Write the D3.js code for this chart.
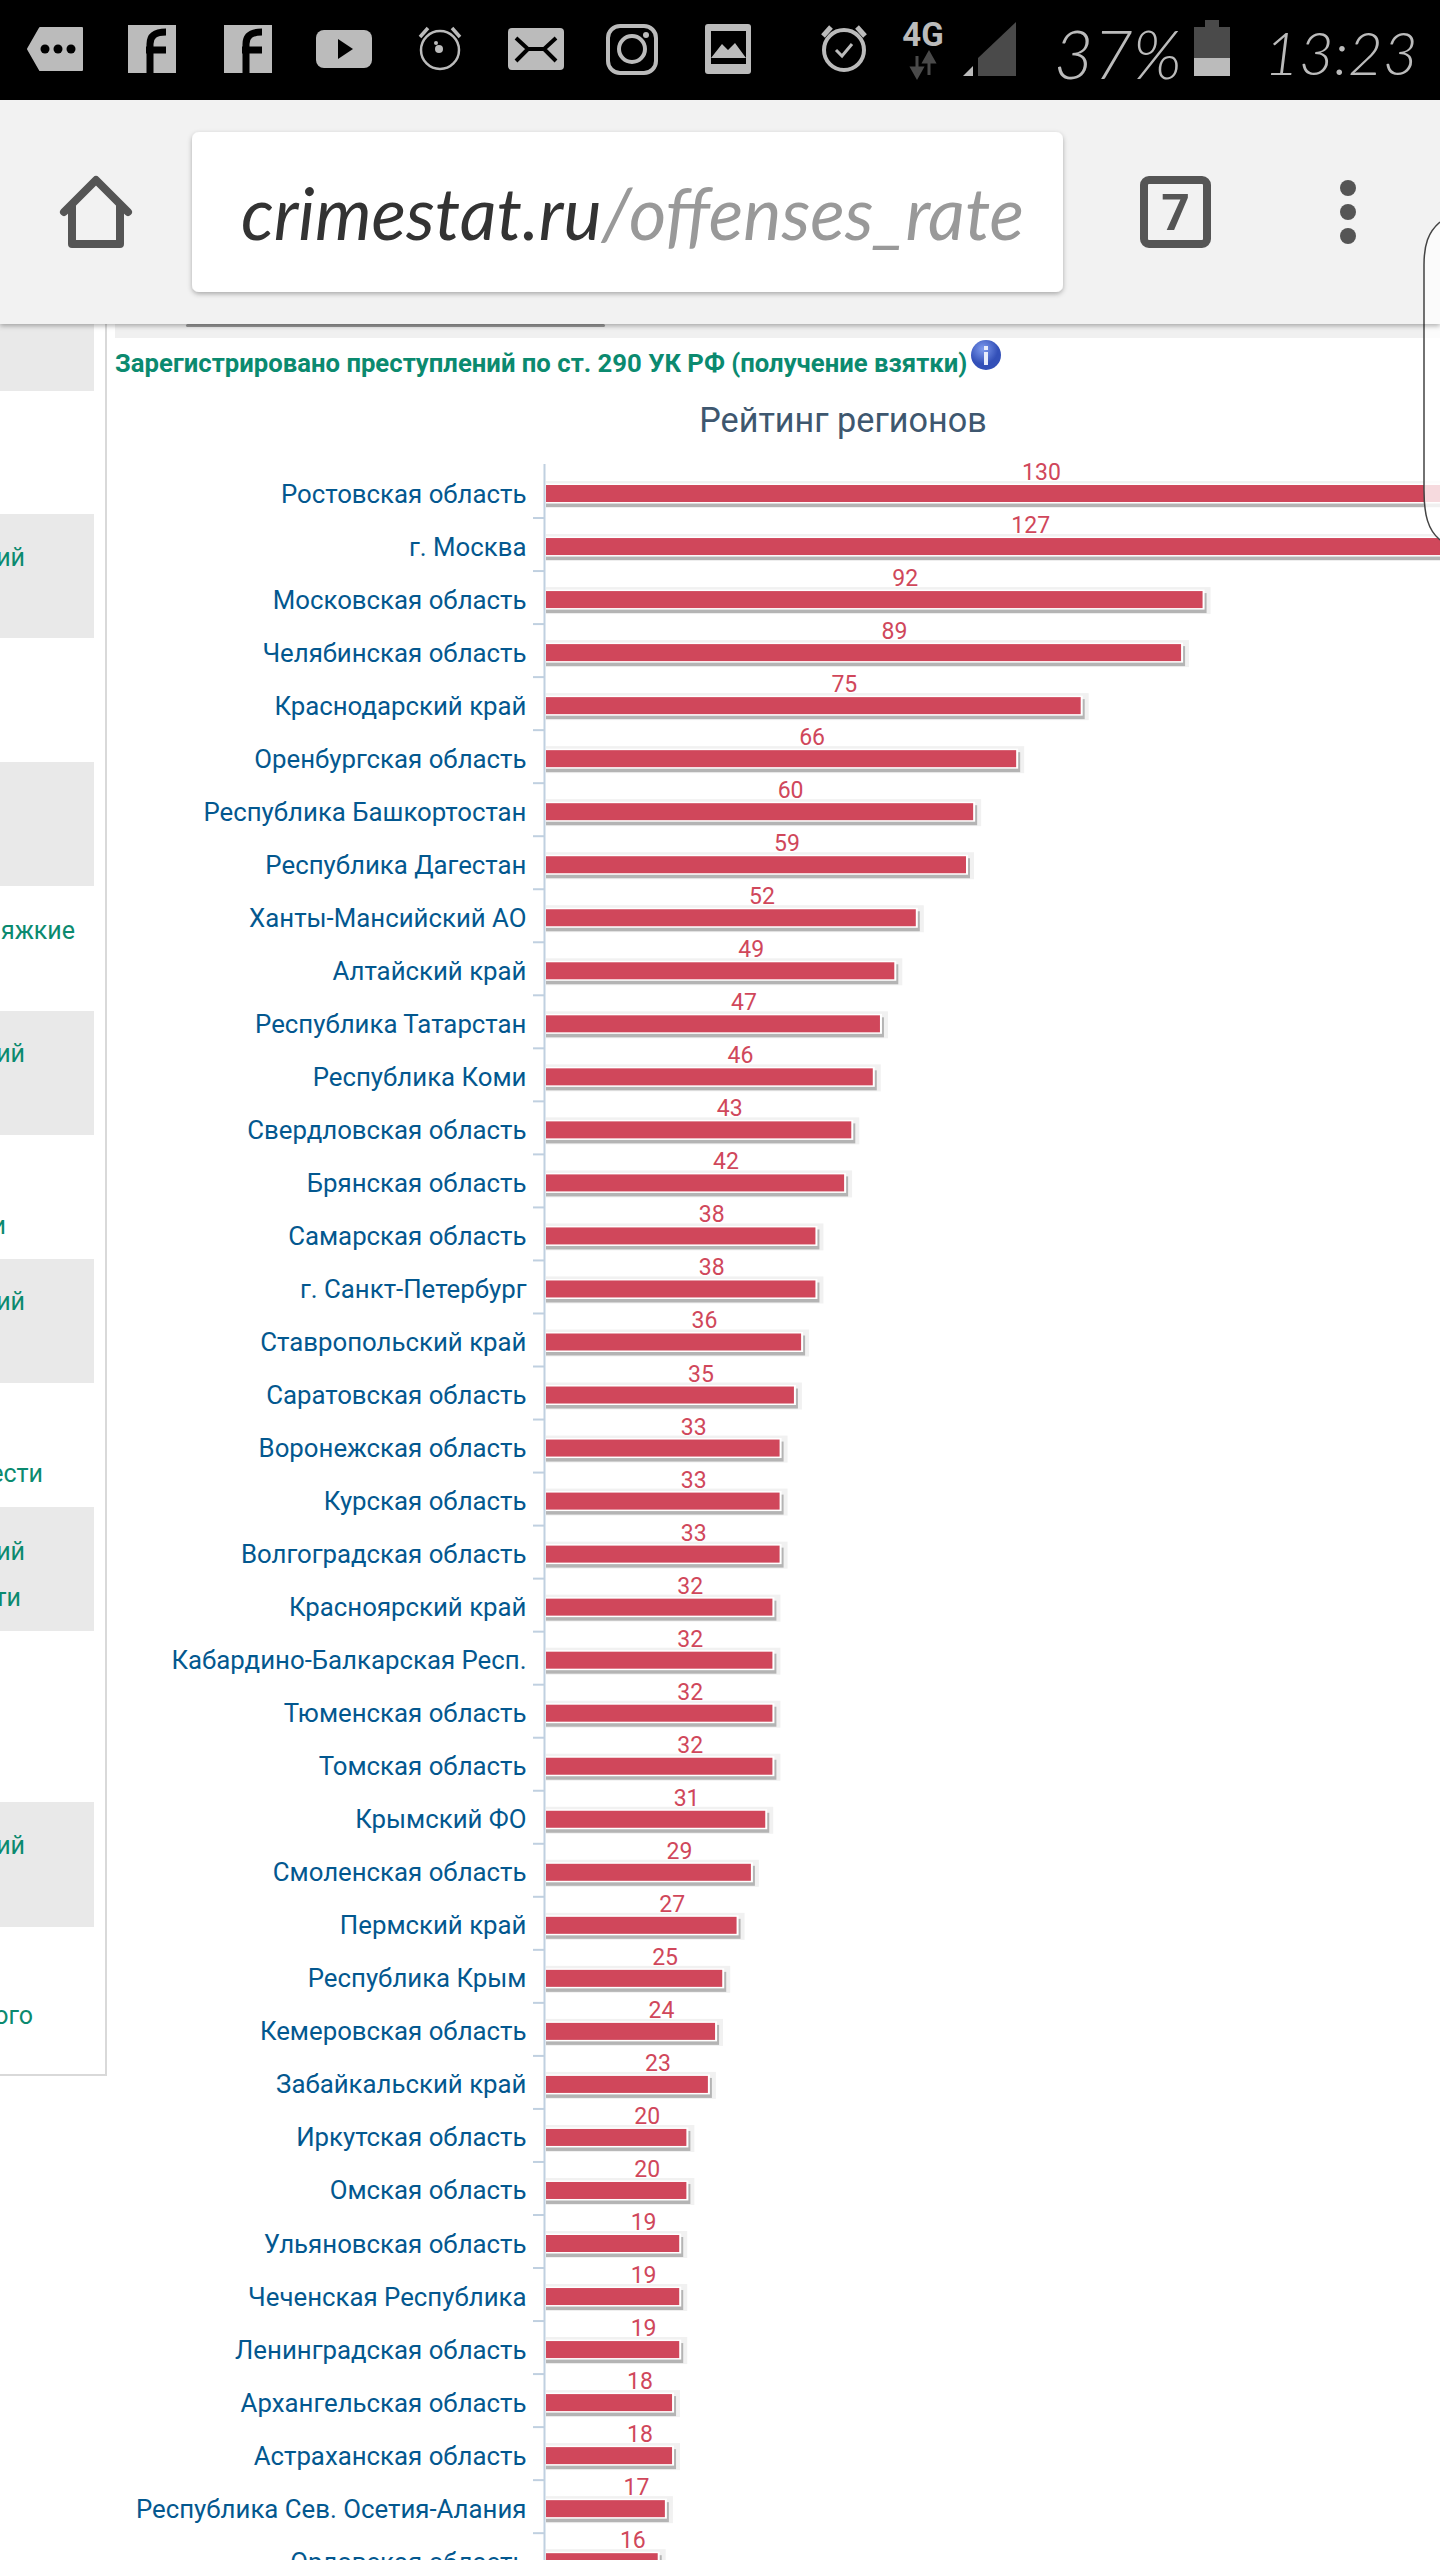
<!DOCTYPE html>
<html><head><meta charset="utf-8">
<script src="https://cdn.jsdelivr.net/npm/d3@7/dist/d3.min.js"></script>
<style>html,body{margin:0;padding:0;background:#fff;overflow:hidden}svg{display:block}</style>
</head><body><svg id="c" width="1440" height="2560"></svg>
<script>
const categories = ["Ростовская область","г. Москва","Московская область","Челябинская область","Краснодарский край","Оренбургская область","Республика Башкортостан","Республика Дагестан","Ханты-Мансийский АО","Алтайский край","Республика Татарстан","Республика Коми","Свердловская область","Брянская область","Самарская область","г. Санкт-Петербург","Ставропольский край","Саратовская область","Воронежская область","Курская область","Волгоградская область","Красноярский край","Кабардино-Балкарская Респ.","Тюменская область","Томская область","Крымский ФО","Смоленская область","Пермский край","Республика Крым","Кемеровская область","Забайкальский край","Иркутская область","Омская область","Ульяновская область","Чеченская Республика","Ленинградская область","Архангельская область","Астраханская область","Республика Сев. Осетия-Алания","Орловская область"];
const values = [130,127,92,89,75,66,60,59,52,49,47,46,43,42,38,38,36,35,33,33,33,32,32,32,32,31,29,27,25,24,23,20,20,19,19,19,18,18,17,16];
const chartTitle = "Рейтинг регионов";
const pageHeading = "Зарегистрировано преступлений по ст. 290 УК РФ (получение взятки)";
const urlHost = "crimestat.ru", urlPath = "/offenses_rate";
const sidebarTexts = ["ий","яжкие","ий","и","ий","ести","ий","ти","ий","ого"];
const sidebarTextY = [557,930,1053,1225,1301,1473,1551,1597,1845,2015];
const sidebarTextEnd = [25,75,25,6,25,43,25,21,25,33];
const sidebarBlocks = [[0,391],[514,638],[762,886],[1011,1135],[1259,1383],[1507,1631],[1802,1927]];

const svg = d3.select("#c");
const F = "Roboto, sans-serif";
const RED="#d0475b", BLUE="#03588f", GREEN="#0b8a6f";
const rect=(g,x,y,w,h,fill,extra={})=>{const r=g.append("rect").attr("x",x).attr("y",y).attr("width",w).attr("height",h).attr("fill",fill);for(const k in extra)r.attr(k,extra[k]);return r;};
const text=(g,s,x,y,size,fill,anchor="start",extra={})=>{const t=g.append("text").text(s).attr("x",x).attr("y",y).attr("font-size",size).attr("font-family",F).attr("fill",fill).attr("text-anchor",anchor).attr("dominant-baseline","central");for(const k in extra)t.attr(k,extra[k]);return t;};

// ---- page behind the chart
const page = svg.append("g");
sidebarBlocks.forEach(b=>rect(page,0,b[0],94,b[1]-b[0],"#e9e9e9"));
rect(page,105,300,2,1775,"#d9d9d9");
rect(page,0,2074,107,2,"#d9d9d9");
sidebarTexts.forEach((s,i)=>text(page,s,sidebarTextEnd[i],sidebarTextY[i],25,GREEN,"end"));
rect(page,115,324,1325,14,"#f0f0f0");
rect(page,186,324,419,3,"#999",{rx:1.5});
text(page,pageHeading,115,363,25.7,GREEN,"start",{"font-weight":700,id:"head"});
// info icon
const gr=svg.append("defs").append("radialGradient").attr("id","inf").attr("cx","40%").attr("cy","30%");
gr.append("stop").attr("offset","0%").attr("stop-color","#7f9bee");
gr.append("stop").attr("offset","100%").attr("stop-color","#3350b8");
page.append("circle").attr("cx",986).attr("cy",355).attr("r",15).attr("fill","url(#inf)");
rect(page,984,352,4,13,"#e8ecfb"); rect(page,984,346,4,4,"#e8ecfb");

// ---- chart
const x = d3.scaleLinear().domain([0,130]).range([543,1475]);
const y = d3.scaleBand().domain(categories).range([465,465+53.03*categories.length]);
const barH = 17, off = 2;
text(svg,chartTitle,843,420,34.2,"#3e576f","middle",{id:"title"});

const yAxisG = svg.append("g").attr("transform","translate(544.5,0)")
  .call(d3.axisLeft(y).tickSize(0).tickPadding(18).tickFormat(d=>d));
yAxisG.select(".domain").remove();
yAxisG.selectAll("text").attr("font-family",F).attr("font-size",25.8).attr("fill",BLUE)
  .attr("dy",null).attr("dominant-baseline","central").attr("y",2);
svg.append("line").attr("x1",544.5).attr("x2",544.5).attr("y1",464).attr("y2",2560).attr("stroke","#c0d0e0").attr("stroke-width",2);
svg.append("g").selectAll("line").data(categories.slice(1)).join("line")
  .attr("x1",533).attr("x2",544).attr("y1",d=>y(d)).attr("y2",d=>y(d)).attr("stroke","#c0d0e0").attr("stroke-width",2);

const rows = categories.map((c,i)=>({c,v:values[i]}));
const cy = d=>y(d.c)+y.bandwidth()/2+off;
const bars = svg.append("g");
const w = d=>x(d.v)-546;
bars.selectAll(".o").data(rows).join("rect").attr("x",546).attr("y",d=>cy(d)-barH/2-4)
  .attr("width",d=>w(d)+8).attr("height",barH+10).attr("fill","#f1f1f1");
bars.selectAll(".o2").data(rows).join("rect").attr("x",546).attr("y",d=>cy(d)-barH/2+2)
  .attr("width",d=>w(d)+4).attr("height",barH+3).attr("fill","#b4b4b4");
bars.selectAll(".o3").data(rows).join("rect").attr("x",546).attr("y",d=>cy(d)-barH/2-1.5)
  .attr("width",d=>w(d)+2).attr("height",barH+3).attr("fill","#fff");
bars.selectAll(".b").data(rows).join("rect").attr("x",546).attr("y",d=>cy(d)-barH/2)
  .attr("width",w).attr("height",barH).attr("fill",RED);
svg.append("g").selectAll("text").data(rows).join("text")
  .text(d=>d.v).attr("x",d=>(x(d.v)+x(0))/2+32.5).attr("y",d=>cy(d)-21)
  .attr("text-anchor","middle").attr("dominant-baseline","central")
  .attr("font-family",F).attr("font-size",23).attr("fill",RED);

// ---- overlay outline at right
svg.append("path").attr("d","M1440 222 C1428 232 1424 245 1424 265 L1424 490 C1424 515 1428 530 1440 540 Z")
  .attr("fill","#fff").attr("fill-opacity",.8);
svg.append("path").attr("d","M1440 222 C1428 232 1424 245 1424 265 L1424 490 C1424 515 1428 530 1440 540")
  .attr("fill","none").attr("stroke","#444").attr("stroke-width",1.5);

// ---- browser toolbar
const defs=svg.select("defs");
const fl=defs.append("filter").attr("id","sh").attr("x","-5%").attr("y","-20%").attr("width","110%").attr("height","150%");
fl.append("feDropShadow").attr("dx",0).attr("dy",2).attr("stdDeviation",2.5).attr("flood-color","#000").attr("flood-opacity",.3);
const tb=svg.append("g");
rect(tb,0,100,1440,224,"#f2f2f2",{filter:"url(#sh)"});
// keep overlay line visible through toolbar bottom
tb.append("path").attr("d","M1440 222 C1428 232 1424 245 1424 265 L1424 324 L1440 324 Z").attr("fill","#fbfbfb");
tb.append("path").attr("d","M1440 222 C1428 232 1424 245 1424 265 L1424 324").attr("fill","none").attr("stroke","#444").attr("stroke-width",1.5);
rect(tb,192,132,871,160,"#fff",{rx:7,filter:"url(#sh)"});
const cl=defs.append("clipPath").attr("id","url"); cl.append("rect").attr("x",235).attr("y",132).attr("width",797).attr("height",160);
const urlT=text(tb,"",241,212,72,"#333","start",{"clip-path":"url(#url)","font-family":"'Lato', sans-serif","font-style":"italic"});
urlT.append("tspan").text(urlHost).attr("fill","#333");
urlT.append("tspan").text(urlPath).attr("fill","#999");
const st={fill:"none",stroke:"#555","stroke-width":8,"stroke-linejoin":"round","stroke-linecap":"round"};
const path=(g,d,o)=>{const p=g.append("path").attr("d",d);for(const k in o)p.attr(k,o[k]);return p;};
path(tb,"M64 212 L96 180 L128 212 M72 205 L72 244 L120 244 L120 205",st);
rect(tb,1144,180,63,64,"none",{stroke:"#555","stroke-width":8,rx:5});
text(tb,"7",1175.5,213,50,"#555","middle",{"font-weight":700});
[188,212,236].forEach(v=>tb.append("ellipse").attr("cx",1348).attr("cy",v).attr("rx",8).attr("ry",8).attr("fill","#555"));

// ---- status bar
const sb=svg.append("g");
const G="#bbb", D="#4a4a4a";
rect(sb,0,0,1440,100,"#000");
path(sb,"M28 49 L40 28 L82 28 L82 70 L40 70 Z",{fill:G,"stroke":G,"stroke-width":2,"stroke-linejoin":"round"});
[45,58,71].forEach(v=>sb.append("circle").attr("cx",v).attr("cy",49).attr("r",4.5).attr("fill","#000"));
[128,224].forEach(v=>{rect(sb,v,25,48,48,G);
  path(sb,`M${v+22} 73 L${v+22} 44 C${v+22} 36 ${v+27} 32 ${v+38} 32 M${v+18} 50 L${v+38} 50`,{fill:"none",stroke:"#000","stroke-width":7});});
rect(sb,316,30,56,38,G,{rx:8});
path(sb,"M338 39 L353 49 L338 59 Z",{fill:"#000"});
const alarm=(cx,cy,r,sw)=>{sb.append("circle").attr("cx",cx).attr("cy",cy).attr("r",r).attr("fill","none").attr("stroke",G).attr("stroke-width",sw);
  path(sb,`M${cx-r-1} ${cy-r+6} L${cx-r+7} ${cy-r-3} M${cx+r+1} ${cy-r+6} L${cx+r-7} ${cy-r-3}`,{fill:"none",stroke:G,"stroke-width":sw+1});};
alarm(440,50,19,2.5);
sb.append("circle").attr("cx",439).attr("cy",49).attr("r",4).attr("fill",G);
sb.append("circle").attr("cx",436).attr("cy",43).attr("r",2).attr("fill",G);
rect(sb,508,28,56,42,G,{rx:4});
path(sb,"M516 38 L528 49 L516 61 M556 38 L544 49 L556 61 M528 49 L544 49",{fill:"none",stroke:"#000","stroke-width":4});
rect(sb,608,26,48,47,"none",{stroke:G,"stroke-width":4,rx:12});
sb.append("circle").attr("cx",632).attr("cy",49).attr("r",13).attr("fill","none").attr("stroke",G).attr("stroke-width",4);
sb.append("circle").attr("cx",646).attr("cy",35).attr("r",3).attr("fill",G);
rect(sb,705,24,46,50,G,{rx:3});
rect(sb,711,31,35,33,"#000");
path(sb,"M711 58 L722 44 L728 50 L735 43 L746 58 Z",{fill:G});
alarm(844,50,20,4);
path(sb,"M836 50 L842 56 L852 44",{fill:"none",stroke:G,"stroke-width":3});
sb.append("text").text("4G").attr("x",923).attr("y",46).attr("text-anchor","middle").attr("font-family",F).attr("font-weight",700).attr("font-size",33).attr("fill",G);
path(sb,"M917 56 L917 68 M912 68 L917 77 L922 68 Z",{fill:D,stroke:D,"stroke-width":3});
path(sb,"M929 75 L929 62 M924 62 L929 53 L934 62 Z",{fill:D,stroke:D,"stroke-width":3});
path(sb,"M978 76 L978 58 L1016 22 L1016 76 Z",{fill:D});
path(sb,"M963 76 L973 66 L973 76 Z",{fill:G});
const hand={"font-family":"'Lato', sans-serif","font-style":"italic","font-weight":300};
text(sb,"37%",1118,52,68,G,"middle",hand);
rect(sb,1205,20,14,9,D); rect(sb,1194,27,36,31,D); rect(sb,1194,58,36,18,G);
text(sb,"13:23",1341,52,60,G,"middle",hand);
</script></body></html>
